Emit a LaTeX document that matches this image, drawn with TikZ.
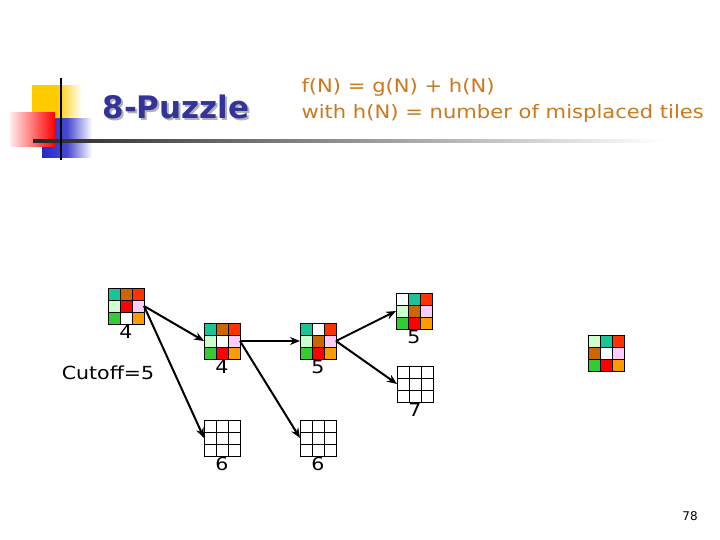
\documentclass[tikz,border=0pt]{standalone}
\usepackage{fontspec}
\setmainfont{DejaVu Sans}
\newfontfamily\widesans[FakeStretch=1.14]{DejaVu Sans}
\usetikzlibrary{positioning}
\usetikzlibrary{arrows.meta}

\definecolor{tileteal}{RGB}{26,196,150}
\definecolor{tilebrown}{RGB}{204,102,0}
\definecolor{tilered}{RGB}{255,51,0}
\definecolor{tilemint}{RGB}{204,255,204}
\definecolor{tilecrimson}{RGB}{255,0,0}
\definecolor{tilepink}{RGB}{255,204,255}
\definecolor{tilegreen}{RGB}{51,204,51}
\definecolor{tileorange}{RGB}{255,153,0}
\definecolor{headbrown}{RGB}{204,120,30}
\definecolor{titleblue}{RGB}{51,51,153}
\definecolor{decoyellow}{RGB}{255,204,0}
\definecolor{decoblue}{RGB}{40,40,200}

% nine tiles of a board, row by row, then the grid lines
\newcommand{\puzzle}[2]{%
  \begin{scope}[shift={(#1.north west)}]
  \foreach \c [count=\i from 0] in {#2} {
    \pgfmathtruncatemacro\tx{mod(\i,3)}
    \pgfmathtruncatemacro\ty{div(\i,3)}
    \fill[\c] (\tx*12,\ty*12) rectangle ++(12,12);
  }
  \foreach \k in {12,24} {
    \draw[thin] (\k,0) -- (\k,36);
    \draw[thin] (0,\k) -- (36,\k);
  }
  \end{scope}
  \draw[thin] (#1.north west) rectangle (#1.south east);
}

% title with its grey shadow
\newcommand{\shadowtitle}[1]{%
  \makebox[0pt][l]{\hspace{2pt}\raisebox{-2pt}{\color{black!30}#1}}#1}

\tikzset{
  boardbox/.style={minimum size=36pt,inner sep=0pt,outer sep=0pt},
  numlabel/.style={font=\widesans\fontsize{18}{20}\selectfont,inner sep=1pt},
  move/.style={line width=2pt,-{Stealth[length=10pt,width=8pt]}},
}

\begin{document}
\begin{tikzpicture}[x=1pt,y=-1pt]
\useasboundingbox (0,0) rectangle (720,540);

% title decoration
\shade[left color=decoyellow,right color=white,middle color=decoyellow] (32,86) rectangle (82,119);
\shade[left color=decoblue,right color=white,middle color=decoblue!85] (42,119) rectangle (92,158);
\shade[left color=red!8,right color=red] (10,113) rectangle (55,147);
\shade[left color=black!85,right color=white] (33,139.5) rectangle (665,142.5);
\draw[line width=2.5pt] (61,78) -- (61,160);

\node[font=\fontsize{31}{34}\bfseries\selectfont,text=titleblue] (title) at (176,108) {\shadowtitle{8-Puzzle}};

\node[anchor=west,align=left,text=headbrown,font=\widesans\fontsize{18.5}{26}\selectfont] (heuristic) at (298,100)
  {f(N) = g(N) + h(N)\\with h(N) = number of misplaced tiles};

% boards
\node[boardbox] (root) at (126,306) {};
\node[boardbox] (left) at (222,341) {};
\node[boardbox] (right) at (318,341) {};
\node[boardbox] (upper) at (414,311) {};
\node[boardbox] (lower) at (415,384) {};
\node[boardbox] (deadA) at (222,438) {};
\node[boardbox] (deadB) at (318,438) {};
\node[boardbox] (goal) at (606,353) {};

\puzzle{root}{tileteal,tilebrown,tilered,tilemint,tilecrimson,tilepink,tilegreen,white,tileorange}
\puzzle{left}{tileteal,tilebrown,tilered,tilemint,white,tilepink,tilegreen,tilecrimson,tileorange}
\puzzle{right}{tileteal,white,tilered,tilemint,tilebrown,tilepink,tilegreen,tilecrimson,tileorange}
\puzzle{upper}{white,tileteal,tilered,tilemint,tilebrown,tilepink,tilegreen,tilecrimson,tileorange}
\puzzle{lower}{white,white,white,white,white,white,white,white,white}
\puzzle{deadA}{white,white,white,white,white,white,white,white,white}
\puzzle{deadB}{white,white,white,white,white,white,white,white,white}
\puzzle{goal}{tilemint,tileteal,tilered,tilebrown,white,tilepink,tilegreen,tilecrimson,tileorange}

% f values
\node[numlabel,below=0pt of root] (rootf) {4};
\node[numlabel,below=0pt of left] (leftf) {4};
\node[numlabel,below=0pt of right] (rightf) {5};
\node[numlabel,below=0pt of upper] (upperf) {5};
\node[numlabel,below=0pt of lower] (lowerf) {7};
\node[numlabel,below=0pt of deadA] (deadAf) {6};
\node[numlabel,below=0pt of deadB] (deadBf) {6};

\node[numlabel] (cutoff) at (108,373) {Cutoff=5};
\node[font=\fontsize{12}{14}\selectfont] (page) at (690,516) {78};

% expansions
\draw[move] (root.east) -- (left.west);
\draw[move] (root.east) -- (deadA.west);
\draw[move] (left.east) -- (right.west);
\draw[move] (left.east) -- (deadB.west);
\draw[move] (right.east) -- (upper.west);
\draw[move] (right.east) -- (lower.west);

\end{tikzpicture}
\end{document}
